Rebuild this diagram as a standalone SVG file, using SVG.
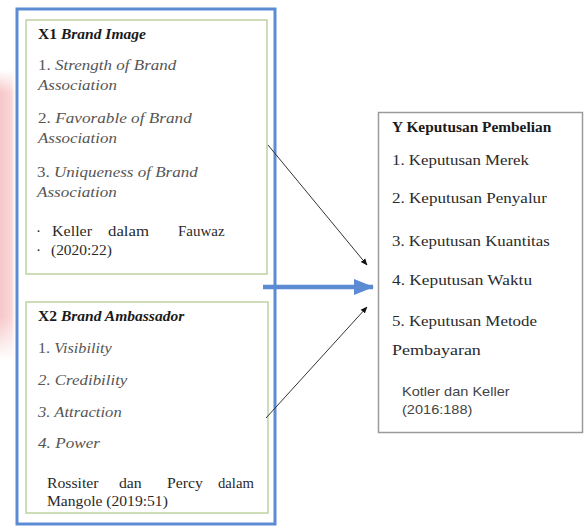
<svg xmlns="http://www.w3.org/2000/svg" width="584" height="529" viewBox="0 0 584 529">
<defs>
<linearGradient id="pink" x1="0" y1="0" x2="1" y2="0">
<stop offset="0" stop-color="#f7c6c8"/>
<stop offset="0.75" stop-color="#fad8d9"/>
<stop offset="1" stop-color="#fdeeee" stop-opacity="0"/>
</linearGradient>
<linearGradient id="pinkv" x1="0" y1="0" x2="0" y2="1">
<stop offset="0" stop-color="#fff" stop-opacity="1"/>
<stop offset="0.08" stop-color="#fff" stop-opacity="0"/>
<stop offset="0.85" stop-color="#fff" stop-opacity="0"/>
<stop offset="1" stop-color="#fff" stop-opacity="1"/>
</linearGradient>
<marker id="ah" viewBox="0 0 10 10" refX="9" refY="5" markerWidth="7" markerHeight="7" orient="auto" markerUnits="userSpaceOnUse">
<path d="M0,1 L10,5 L0,9 Z" fill="#111"/>
</marker>
<marker id="bah" viewBox="0 0 20 16" refX="19" refY="8" markerWidth="20" markerHeight="16" orient="auto" markerUnits="userSpaceOnUse">
<path d="M0,0 L20,8 L0,16 Z" fill="#5b8bd2"/>
</marker>
</defs>
<style>
text{font-family:"Liberation Serif","Times New Roman",serif;font-size:15px;fill:#2a2a2a}
.b{font-weight:bold;fill:#1a1a1a}
.i{font-style:italic;fill:#555}
.n{font-style:normal}
.s{font-family:"Liberation Sans",Arial,sans-serif;font-size:13px;fill:#444}
.inner{fill:#fff;stroke:#bcd2a0;stroke-width:1.5}
.outer{fill:none;stroke:#5b8bd2;stroke-width:3}
.thin{stroke:#333;stroke-width:1;fill:none}
</style>
<rect width="584" height="529" fill="#fff"/>
<rect x="0" y="70" width="16" height="290" fill="url(#pink)"/>
<rect x="0" y="70" width="16" height="290" fill="url(#pinkv)"/>

<g id="x1">
<rect class="inner" x="26" y="20" width="241" height="254"/>
<text class="b" transform="matrix(1.037 0 0 1 38 39)">X1 <tspan font-style="italic">Brand Image</tspan></text>
<text class="i" transform="matrix(1.135 0 0 1 38 70)"><tspan class="n">1.</tspan> Strength of Brand</text>
<text class="i" transform="matrix(1.128 0 0 1 38 90)">Association</text>
<text class="i" transform="matrix(1.148 0 0 1 38 123)"><tspan class="n">2.</tspan> Favorable of Brand</text>
<text class="i" transform="matrix(1.128 0 0 1 38 143)">Association</text>
<text class="i" transform="matrix(1.136 0 0 1 37 177)"><tspan class="n">3.</tspan> Uniqueness of Brand</text>
<text class="i" transform="matrix(1.14 0 0 1 37 197)">Association</text>
<text x="36" y="236">·</text>
<text transform="matrix(1.07 0 0 1 52 236)">Keller</text>
<text transform="matrix(1.12 0 0 1 108 236)">dalam</text>
<text transform="matrix(1.0 0 0 1 178 236)">Fauwaz</text>
<text x="36" y="255">·</text>
<text transform="matrix(1.03 0 0 1 51 255)">(2020:22)</text>
</g>

<g id="x2">
<rect class="inner" x="26" y="302" width="242" height="211"/>
<text class="b" transform="matrix(1.037 0 0 1 38 321)">X2 <tspan font-style="italic">Brand Ambassador</tspan></text>
<text class="i" transform="matrix(1.084 0 0 1 38 353)"><tspan class="n">1.</tspan> Visibility</text>
<text class="i" transform="matrix(1.125 0 0 1 38 385)">2. Credibility</text>
<text class="i" transform="matrix(1.108 0 0 1 38 417)">3. Attraction</text>
<text class="i" transform="matrix(1.144 0 0 1 38 448)">4. Power</text>
<text transform="matrix(1.05 0 0 1 47 488)">Rossiter</text>
<text transform="matrix(1.05 0 0 1 119 488)">dan</text>
<text transform="matrix(1.05 0 0 1 167 488)">Percy</text>
<text transform="matrix(0.98 0 0 1 218 488)">dalam</text>
<text transform="matrix(1.04 0 0 1 47 506)">Mangole (2019:51)</text>
</g>

<g id="outer-frame">
<rect class="outer" x="17" y="9" width="258" height="515"/>
</g>

<g id="y">
<rect x="378.5" y="112.5" width="204" height="320" fill="#fff" stroke="#9a9a9a" stroke-width="1.5"/>
<text class="b" transform="matrix(1.026 0 0 1 392 132)">Y Keputusan Pembelian</text>
<text transform="matrix(1.123 0 0 1 392 165)">1. Keputusan Merek</text>
<text transform="matrix(1.138 0 0 1 392 203)">2. Keputusan Penyalur</text>
<text transform="matrix(1.125 0 0 1 392 246)">3. Keputusan Kuantitas</text>
<text transform="matrix(1.155 0 0 1 392 285)">4. Keputusan Waktu</text>
<text transform="matrix(1.127 0 0 1 392 326)">5. Keputusan Metode</text>
<text transform="matrix(1.2 0 0 1 392 355)">Pembayaran</text>
<text class="s" transform="matrix(1.12 0 0 1 402 396)">Kotler dan Keller</text>
<text class="s" transform="matrix(1.12 0 0 1 402 414)">(2016:188)</text>
</g>

<g id="connectors">
<line class="thin" x1="268" y1="145" x2="367" y2="265" marker-end="url(#ah)"/>
<line class="thin" x1="266" y1="418" x2="367" y2="307" marker-end="url(#ah)"/>
<line x1="263" y1="287" x2="373" y2="287" stroke="#5b8bd2" stroke-width="4.5" marker-end="url(#bah)"/>
</g>
</svg>
